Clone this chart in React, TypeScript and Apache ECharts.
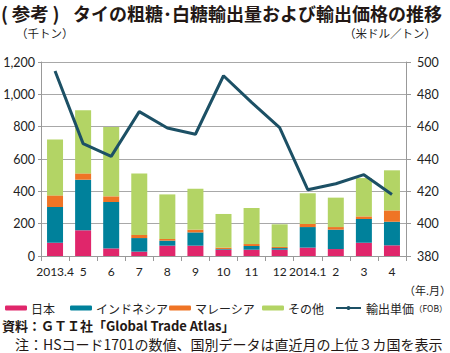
import React, { useEffect, useRef } from "react";
import * as echarts from "echarts";

const categories = ["2013.4", "5", "6", "7", "8", "9", "10", "11", "12", "2014.1", "2", "3", "4"];
const japan = [82, 159, 47, 27, 64, 64, 39, 39, 39, 52, 43, 82, 66];
const indonesia = [221, 313, 287, 84, 31, 82, 4, 23, 10, 127, 120, 147, 146];
const malaysia = [72, 39, 35, 19, 10, 17, 9, 12, 7, 19, 16, 16, 70];
const others = [345, 390, 429, 381, 276, 253, 208, 223, 140, 190, 182, 237, 248];
const exportPrice = [494.4, 449.5, 441.6, 469.3, 459.2, 455.3, 491.5, 475, 459.4, 421, 424.7, 430.3, 418.1];
const leftTicks = { min: 0, max: 1200, interval: 200 };
const rightTicks = { min: 380, max: 500, interval: 20 };

const FONT = "'Noto Sans CJK JP', 'Noto Sans', sans-serif";
const NUMFONT = "Lato, 'Noto Sans CJK JP', sans-serif";

export default function App() {
  const ref = useRef<HTMLDivElement>(null);
  useEffect(() => {
    document.body.style.margin = "0";
    if (!ref.current) return;
    const chart = echarts.init(ref.current, undefined, { renderer: "svg" });
    const colors = { japan: "#e0266b", indo: "#00819b", malay: "#ef7425", other: "#b3d465", line: "#1c5065" };
    const barW = 16;
    const mkLegend = (name: string, left: number, extra: any = {}) => ({
      data: [name],
      left,
      top: 302,
      itemWidth: 22,
      itemHeight: 5,
      itemGap: 0,
      padding: 0,
      textStyle: { fontSize: 12, fontFamily: FONT, color: "#222", padding: [0, 0, 0, -1] },
      ...extra,
    });
    chart.setOption({
      animation: false,
      textStyle: { fontFamily: FONT },
      grid: { left: 41, right: 44, top: 62, bottom: 97 },
      legend: [
        mkLegend("日本", 5),
        mkLegend("インドネシア", 70),
        mkLegend("マレーシア", 169),
        mkLegend("その他", 262),
        mkLegend("輸出単価", 335, {
          itemWidth: 25,
          formatter: () => "{a|輸出単価}{b|（FOB）}",
          textStyle: {
            fontFamily: FONT,
            color: "#222",
            rich: {
              a: { fontSize: 12, fontFamily: FONT, color: "#222" },
              b: { fontSize: 8.5, fontFamily: FONT, color: "#222" },
            },
          },
        }),
      ],
      graphic: [
        {
          type: "text",
          left: 1,
          top: 4,
          style: { text: "(\u2009参考\u2009)", font: `bold 18.5px ${FONT}`, fill: "#231815" },
        },
        {
          type: "text",
          left: 73,
          top: 4,
          style: {
            text: "タイの粗糖･白糖輸出量および輸出価格の推移",
            font: `bold 18px ${FONT}`,
            fill: "#231815",
          },
        },
        { type: "text", left: 16, top: 27, style: { text: "（千トン）", font: `11.5px ${FONT}`, fill: "#222" } },
        { type: "text", left: 344, top: 27, style: { text: "（米ドル／トン）", font: `11.5px ${FONT}`, fill: "#222" } },
        { type: "text", left: 404, top: 284, style: { text: "（年.月）", font: `11px ${FONT}`, fill: "#222" } },
        {
          type: "text",
          left: 2,
          top: 319,
          style: { text: "資料：ＧＴＩ社「Global Trade Atlas」", font: `bold 13px ${FONT}`, fill: "#231815" },
        },
        {
          type: "text",
          left: 15,
          top: 337,
          style: {
            text: "注：HSコード1701の数値、国別データは直近月の上位３カ国を表示",
            font: `14px ${FONT}`,
            fill: "#231815",
          },
        },
      ],
      xAxis: {
        type: "category",
        data: categories,
        boundaryGap: true,
        axisLine: { lineStyle: { color: "#999", width: 1 } },
        axisTick: { show: true, length: 5, inside: false, lineStyle: { color: "#999" } },
        axisLabel: { fontSize: 12, fontFamily: NUMFONT, color: "#222", margin: 9, interval: 0 },
      },
      yAxis: [
        {
          type: "value",
          ...leftTicks,
          axisLine: { show: true, lineStyle: { color: "#999" } },
          axisTick: { show: true, length: 3, lineStyle: { color: "#999" } },
          splitLine: { show: true, lineStyle: { color: "#a8a8a8", width: 1 } },
          axisLabel: {
            fontSize: 12.5,
            fontFamily: NUMFONT,
            color: "#222",
            margin: 6,
            formatter: (v: number) => v.toLocaleString("en-US"),
          },
        },
        {
          type: "value",
          ...rightTicks,
          position: "right",
          axisLine: { show: true, lineStyle: { color: "#999" } },
          axisTick: { show: true, length: 5, lineStyle: { color: "#999" } },
          splitLine: { show: false },
          axisLabel: { fontSize: 12.5, fontFamily: NUMFONT, color: "#222", margin: 11 },
        },
      ],
      series: [
        { name: "日本", type: "bar", stack: "t", data: japan, barWidth: barW, itemStyle: { color: colors.japan } },
        { name: "インドネシア", type: "bar", stack: "t", data: indonesia, barWidth: barW, itemStyle: { color: colors.indo } },
        { name: "マレーシア", type: "bar", stack: "t", data: malaysia, barWidth: barW, itemStyle: { color: colors.malay } },
        { name: "その他", type: "bar", stack: "t", data: others, barWidth: barW, itemStyle: { color: colors.other } },
        {
          name: "輸出単価",
          type: "line",
          yAxisIndex: 1,
          data: exportPrice,
          symbol: "none",
          lineStyle: { color: colors.line, width: 3 },
          itemStyle: { color: colors.line },
          z: 5,
        },
      ],
    });
    return () => chart.dispose();
  }, []);
  return <div ref={ref} style={{ width: 450, height: 353 }} />;
}
